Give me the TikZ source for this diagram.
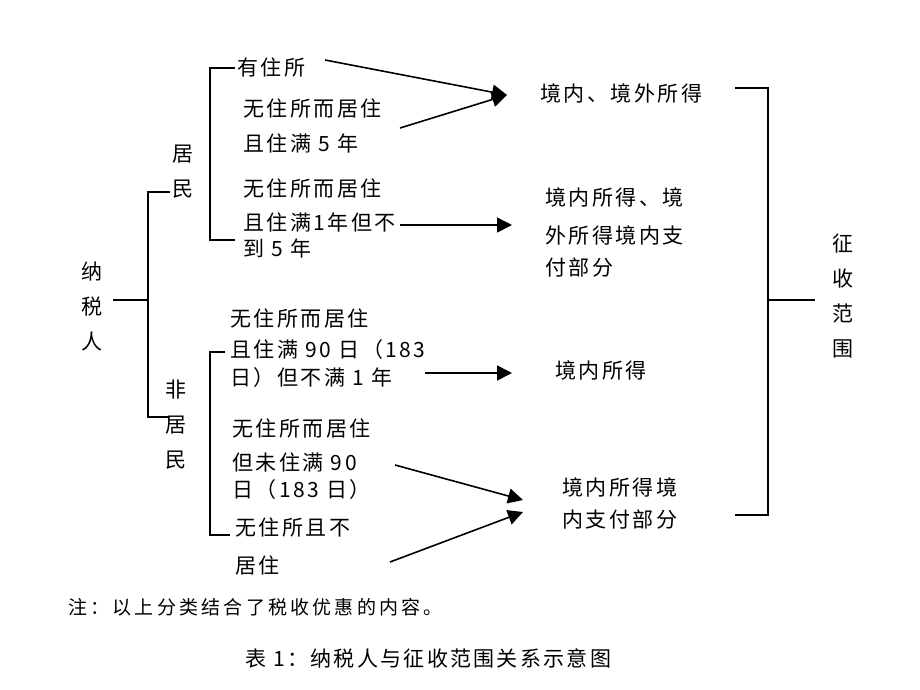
\documentclass[tikz,border=0pt]{standalone}
\usepackage{fontspec}
\setmainfont{Noto Sans CJK SC}
\usetikzlibrary{arrows.meta}
\begin{document}
\begin{tikzpicture}[x=1pt,y=-1pt,
  txt/.style={anchor=west,inner sep=0pt,font=\fontsize{21}{26}\selectfont\addfontfeature{LetterSpace=12}},
  vtxt/.style={inner sep=0pt,align=center,font=\fontsize{21}{35}\selectfont},
  ln/.style={line width=1.6pt},
  arr/.style={line width=1.6pt,-{Triangle[length=15pt,width=15pt]}}]
\path[fill=white] (0,0) rectangle (920,690);
% vertical labels
\node[vtxt] (tw) at (92,306) {纳\\税\\人};
\node[vtxt] (jm) at (183,172) {居\\民};
\node[vtxt] (fjm) at (176,425) {非\\居\\民};
\node[vtxt] (zs) at (843,296) {征\\收\\范\\围};
% resident items
\node[txt] (a1) at (237,67) {有住所};
\node[txt] (a2) at (243,108) {无住所而居住};
\node[txt] (a3) at (243,143) {且住满 5 年};
\node[txt] (a4) at (243,188) {无住所而居住};
\node[txt] (a5) at (243,222) {且住满1年但不};
\node[txt] (a6) at (243,248) {到 5 年};
% non-resident items
\node[txt] (b1) at (230,318) {无住所而居住};
\node[txt] (b2) at (230,350) {且住满 90 日（183};
\node[txt] (b3) at (230,378) {日）但不满 1 年};
\node[txt] (b4) at (232,428) {无住所而居住};
\node[txt] (b5) at (232,462) {但未住满 90};
\node[txt] (b6) at (232,490) {日（183 日）};
\node[txt] (b7) at (235,527) {无住所且不};
\node[txt] (b8) at (235,565) {居住};
% results
\node[txt] (r1) at (540,93) {境内、境外所得};
\node[txt] (r2) at (545,197) {境内所得、境};
\node[txt] (r3) at (545,235) {外所得境内支};
\node[txt] (r4) at (545,268) {付部分};
\node[txt] (r5) at (555,370) {境内所得};
\node[txt] (r6) at (562,487) {境内所得境};
\node[txt] (r7) at (562,520) {内支付部分};
% note and caption
\node[anchor=west,inner sep=0pt,font=\fontsize{19}{22}\selectfont\addfontfeature{LetterSpace=17}] (note) at (68,607) {注：以上分类结合了税收优惠的内容。};
\node[anchor=west,inner sep=0pt,font=\fontsize{21}{24}\selectfont\addfontfeature{LetterSpace=11}] (cap) at (245,658) {表 1：纳税人与征收范围关系示意图};
% bracket coordinates
\coordinate (m0) at (113,300);
\coordinate (m1) at (148,300);
\coordinate (mt) at (170,192);
\coordinate (mb) at (170,417);
\coordinate (rt) at (235,68);
\coordinate (rb) at (235,240);
\coordinate (nt) at (225,352);
\coordinate (nb) at (230,535);
\coordinate (zt) at (735,88);
\coordinate (zb) at (735,515);
\coordinate (zm0) at (768,300);
\coordinate (zm1) at (815,300);
% brackets
\draw[ln] (m0) -- (m1);
\draw[ln] (mt) -- (148,192) -- (148,417) -- (mb);
\draw[ln] (rt) -- (210,68) -- (210,240) -- (rb);
\draw[ln] (nt) -- (210,352) -- (210,535) -- (nb);
\draw[ln] (zt) -- (768,88) -- (768,515) -- (zb);
\draw[ln] (zm0) -- (zm1);
% arrow coordinates
\coordinate (s1) at (325,60);
\coordinate (s2) at (400,128);
\coordinate (t1) at (507,95);
\coordinate (s3) at (400,225);
\coordinate (t3) at (512,225);
\coordinate (s4) at (425,373);
\coordinate (t4) at (512,373);
\coordinate (s5) at (395,465);
\coordinate (t5) at (523,500);
\coordinate (s6) at (390,562);
\coordinate (t6) at (523,512);
\draw[arr] (s1) -- (t1);
\draw[arr] (s2) -- (t1);
\draw[arr] (s3) -- (t3);
\draw[arr] (s4) -- (t4);
\draw[arr] (s5) -- (t5);
\draw[arr] (s6) -- (t6);
\end{tikzpicture}
\end{document}
